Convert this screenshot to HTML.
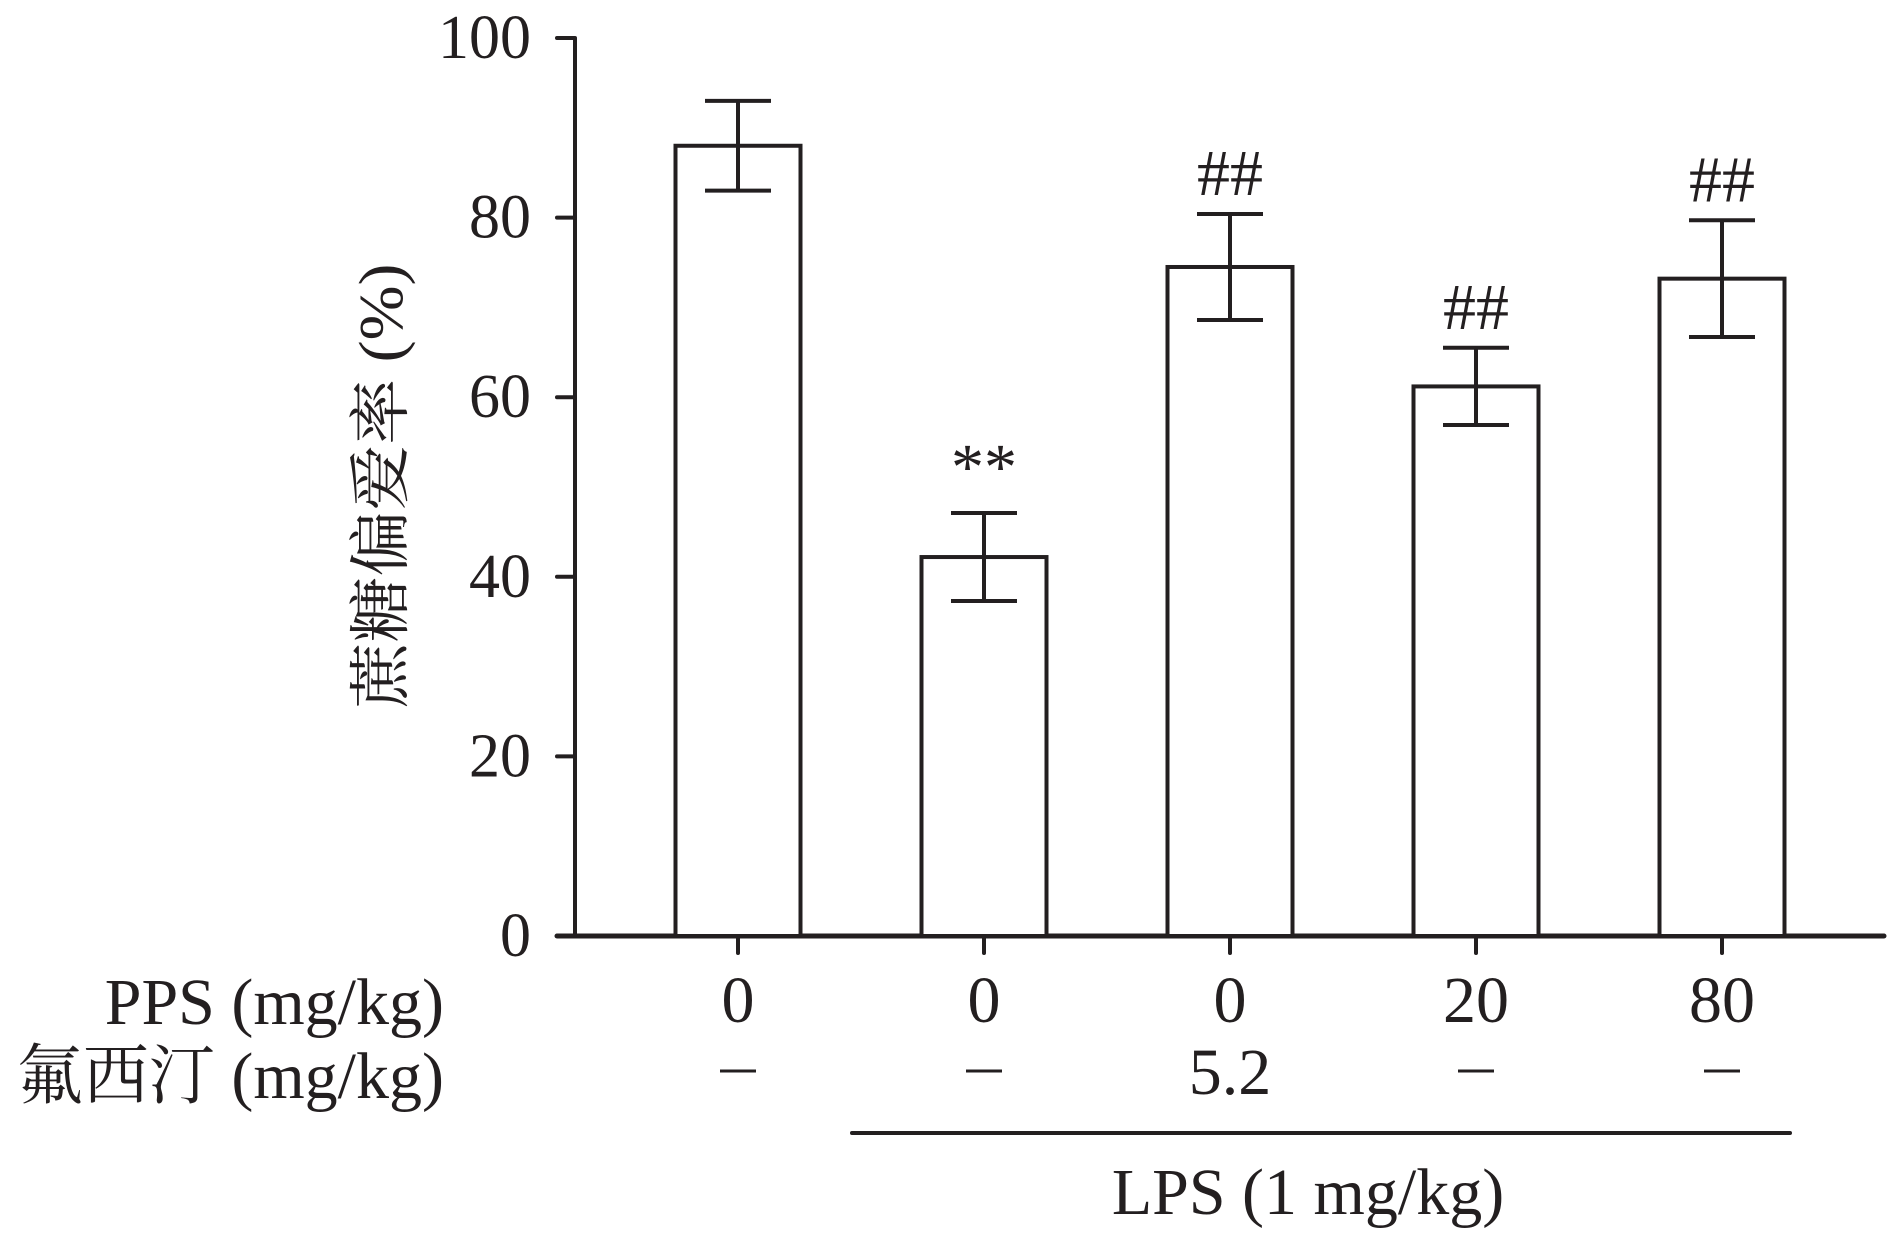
<!DOCTYPE html>
<html><head><meta charset="utf-8"><style>
html,body{margin:0;padding:0;background:#fff;}
svg{display:block;}
text{font-family:"Liberation Serif","Noto Serif CJK SC",serif;fill:#231f20;}
</style></head><body>
<svg id="chart" width="1890" height="1233" viewBox="0 0 1890 1233" xmlns="http://www.w3.org/2000/svg">
<g id="axes"></g>
<g id="bars"></g>
<g id="labels"></g>
<text x="0" y="0" font-size="62" text-anchor="middle" textLength="445" lengthAdjust="spacingAndGlyphs" transform="translate(402,486) rotate(-90)">蔗糖偏爱率 (%)</text>
<text x="444" y="1024" font-size="66" text-anchor="end">PPS (mg/kg)</text>
<text x="444" y="1098" font-size="66" text-anchor="end">氟西汀 (mg/kg)</text>
<line x1="852" y1="1133" x2="1790" y2="1133" stroke="#231f20" stroke-width="4" stroke-linecap="round"/>
<text x="1308" y="1214" font-size="66" text-anchor="middle">LPS (1 mg/kg)</text>
</svg>
<script>
const categories = ["g1","g2","g3","g4","g5"];
const means = [88.0, 42.2, 74.5, 61.2, 73.2];
const errors = [5.0, 4.9, 5.9, 4.3, 6.5];
const annotations = ["", "**", "##", "##", "##"];
const ppsLabels = ["0","0","0","20","80"];
const fluoLabels = ["–","–","5.2","–","–"];
const yTicks = [0,20,40,60,80,100];

const NS = "http://www.w3.org/2000/svg";
const X0 = 575, Y0 = 936, Y100 = 38, XEND = 1884;
const firstCenter = 738, step = 246, barW = 125, capW = 66;
const col = "#231f20";
function y(v){ return Y0 - (v/100)*(Y0-Y100); }
function x(i){ return firstCenter + i*step; }
function mk(tag, attrs, parent){
  const e = document.createElementNS(NS, tag);
  for (const k in attrs) e.setAttribute(k, attrs[k]);
  parent.appendChild(e); return e;
}
const axes = document.getElementById('axes');
const bars = document.getElementById('bars');
const labels = document.getElementById('labels');

let yl = mk('line',{x1:X0,y1:Y100,x2:X0,y2:Y0,stroke:col,'stroke-width':4},axes);


let xl = mk('line',{x1:X0-18,y1:Y0,x2:XEND,y2:Y0,stroke:col,'stroke-width':5,'stroke-linecap':'round'},axes);



yTicks.forEach(t=>{
  const tk = mk('line',{x1:X0-18,y1:y(t),x2:X0,y2:y(t),stroke:col,'stroke-width':4,'stroke-linecap':'round'},axes);
  
  
  const tl = mk('text',{x:531,y:y(t)+20,'font-size':62,'text-anchor':'end'},axes);
  
  
  tl.textContent = String(t);
});

categories.forEach((c,i)=>{
  const cx = x(i);
  const r = mk('rect',{x:cx-barW/2,y:y(means[i]),width:barW,height:Y0-y(means[i]),fill:'#fff',stroke:col,'stroke-width':4},bars);
  
  
  const top = y(means[i]+errors[i]), bot = y(means[i]-errors[i]);
  const ev = mk('line',{x1:cx,y1:top,x2:cx,y2:bot,stroke:col,'stroke-width':4},bars);
  
  
  const et = mk('line',{x1:cx-capW/2,y1:top,x2:cx+capW/2,y2:top,stroke:col,'stroke-width':4},bars);
  
  
  const eb = mk('line',{x1:cx-capW/2,y1:bot,x2:cx+capW/2,y2:bot,stroke:col,'stroke-width':4},bars);
  
  
  if (annotations[i]) {
    const a = mk('text',{x:cx,y:top-(annotations[i]==="**"?24:19),'font-size':66,'text-anchor':'middle'},bars);
    
    
    a.textContent = annotations[i];
  }
  const xt = mk('line',{x1:cx,y1:Y0,x2:cx,y2:953,stroke:col,'stroke-width':4,'stroke-linecap':'round'},axes);
  
  
  const pl = mk('text',{x:cx,y:1022,'font-size':66,'text-anchor':'middle'},labels);
  
  
  pl.textContent = ppsLabels[i];
  if (fluoLabels[i] === "–") {
    const d = mk('line',{x1:cx-18,y1:1071,x2:cx+18,y2:1071,stroke:col,'stroke-width':3},labels);
    
    
  } else {
    const fl = mk('text',{x:cx,y:1094,'font-size':66,'text-anchor':'middle'},labels);
    
    
    fl.textContent = fluoLabels[i];
  }
});
</script>
</body></html>
